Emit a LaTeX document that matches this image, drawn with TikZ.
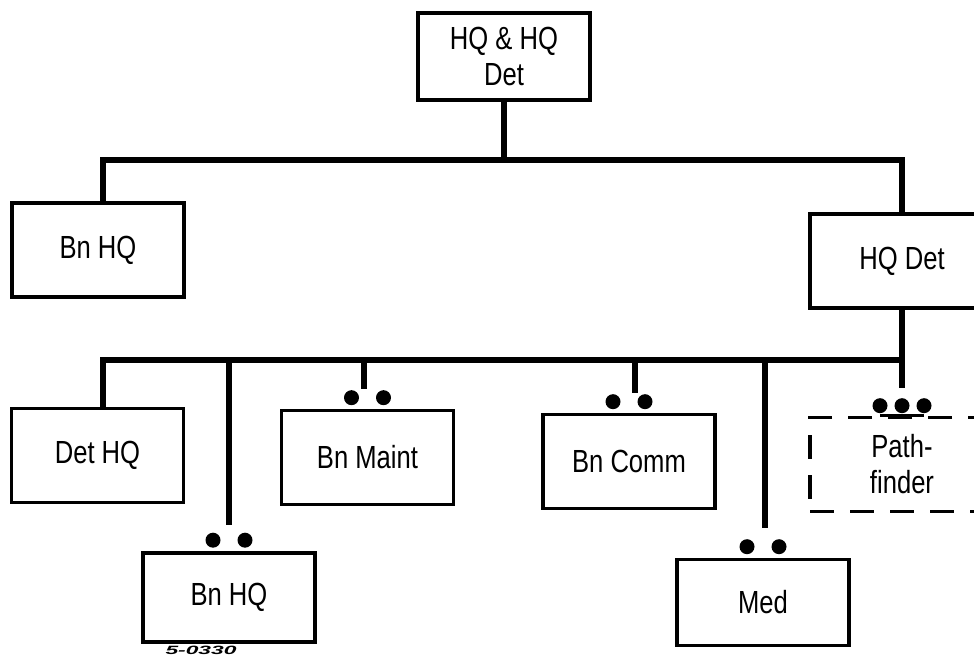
\documentclass[tikz,border=0pt]{standalone}
\usepackage{fontspec}
\setmainfont{Liberation Sans}[FakeStretch=0.8]
\newfontfamily\codefont{Liberation Sans}[FakeStretch=1.9]
\usepackage{tikz}
\usetikzlibrary{positioning}

\begin{document}
\begin{tikzpicture}[
    x=0.5pt, y=-0.5pt,
    box/.style={rectangle, draw=black, line width=1.8pt, minimum width=86pt, minimum height=47pt, inner sep=2pt, align=center, font=\fontsize{16}{18}\selectfont},
    bus/.style={line width=3pt},
    dots/.style={fill=black}
]

\useasboundingbox (0,0) rectangle (974,656);

\node[box, minimum height=43.5pt] (hqhq) at (504,56.5) {HQ \& HQ\\Det};
\node[box] (bnhqa) at (98,250) {Bn HQ};
\node[box, minimum width=92pt] (hqdet) at (902,261) {HQ Det};

\node[box] (dethq) at (97.5,455.5) {Det HQ};
\node[box, minimum height=44.5pt] (bnhqb) at (229,597.5) {Bn HQ};
\node[box] (maint) at (367.5,457.5) {Bn Maint};
\node[box] (comm) at (629,461.5) {Bn Comm};
\node[box, minimum height=43pt] (med) at (763,602.5) {Med};
\node[box, dash pattern=on 12pt off 8pt, minimum width=92pt] (pathf) at (902,464.5) {Path-\\finder};

\node[below=1pt of bnhqb.south, xshift=-14pt, inner sep=0pt, font=\codefont\fontsize{6}{6}\selectfont\bfseries\itshape] (code) {5-0330};

\coordinate (b1l) at (103,160);
\coordinate (b1r) at (902,160);
\coordinate (b2l) at (103,360);
\coordinate (b2r) at (902,360);

\draw[bus] (hqhq.south) -- (hqhq.south |- b1l);
\draw[bus] (b1l |- bnhqa.north) -- (b1l) -- (b1r) -- (b1r |- hqdet.north);

\draw[bus] (hqdet.south) -- ([yshift=14pt]pathf.north);
\draw[bus] (b2l |- dethq.north) -- (b2l) -- (b2r);
\draw[bus] (bnhqb.north |- b2l) -- ([yshift=13pt]bnhqb.north);
\draw[bus] ([xshift=-2pt]maint.north |- b2l) -- ([xshift=-2pt,yshift=10pt]maint.north);
\draw[bus] ([xshift=3pt]comm.north |- b2l) -- ([xshift=3pt,yshift=10pt]comm.north);
\draw[bus] ([xshift=1pt]med.north |- b2l) -- ([xshift=1pt,yshift=15pt]med.north);

\foreach \n in {bnhqb, maint, comm, med}
    \fill[dots] ([xshift=-8pt,yshift=5.5pt]\n.north) circle (3.75pt)
                ([xshift=8pt,yshift=5.5pt]\n.north) circle (3.75pt);

\fill[dots] ([xshift=-11pt,yshift=5pt]pathf.north) circle (3.75pt)
            ([yshift=5pt]pathf.north) circle (3.75pt)
            ([xshift=11pt,yshift=5pt]pathf.north) circle (3.75pt);
\draw[line width=1.8pt] ([xshift=-11pt]pathf.north) -- ([xshift=11pt]pathf.north);

\end{tikzpicture}
\end{document}
